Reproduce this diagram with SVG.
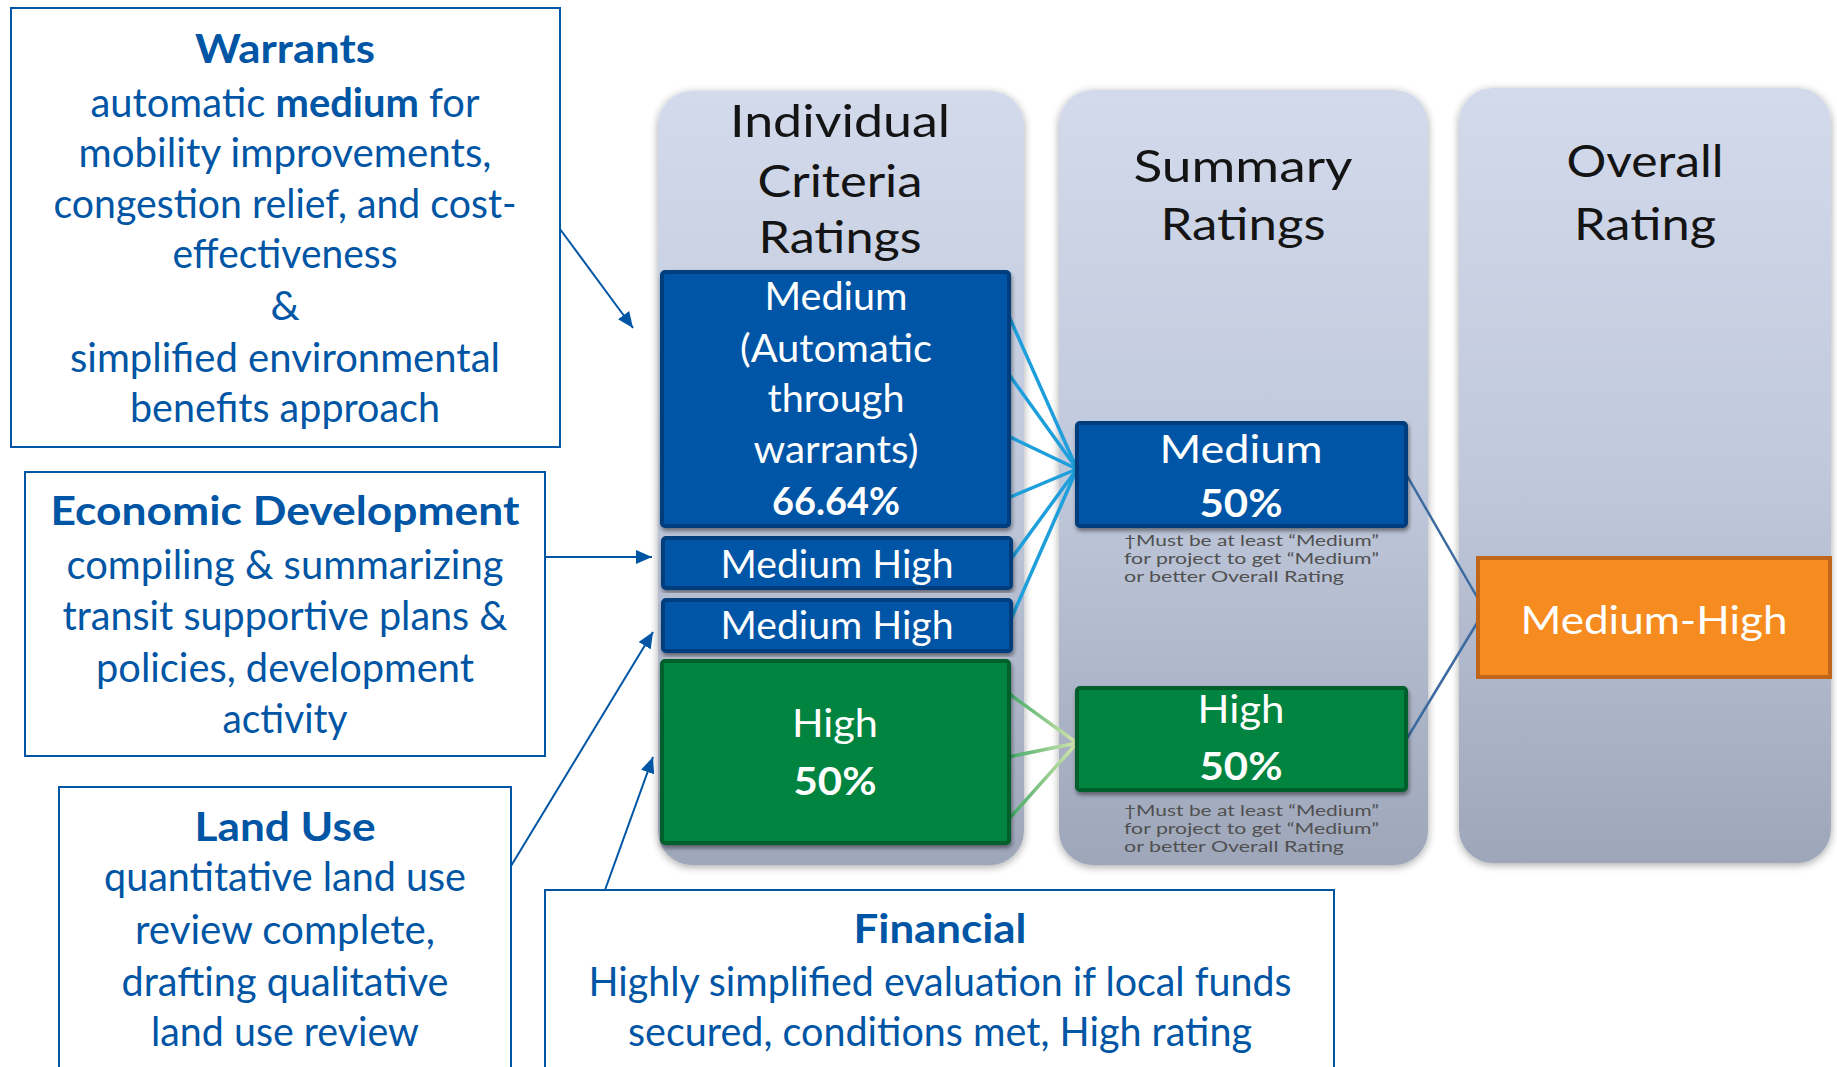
<svg xmlns="http://www.w3.org/2000/svg" width="1837" height="1067" viewBox="0 0 1837 1067">
<defs>
<linearGradient id="panelG" x1="0" y1="0" x2="0" y2="1">
<stop offset="0" stop-color="#D2DAEC"/>
<stop offset="0.5" stop-color="#C0C8DB"/>
<stop offset="1" stop-color="#9EA6BA"/>
</linearGradient>
<linearGradient id="gLine" x1="0" y1="0" x2="1" y2="0">
<stop offset="0" stop-color="#3DA865"/>
<stop offset="1" stop-color="#D7E8B0"/>
</linearGradient>
<filter id="sh" x="-10%" y="-10%" width="120%" height="120%">
<feGaussianBlur in="SourceAlpha" stdDeviation="4"/>
<feOffset dx="0" dy="2" result="b"/>
<feComponentTransfer><feFuncA type="linear" slope="0.35"/></feComponentTransfer>
<feMerge><feMergeNode/><feMergeNode in="SourceGraphic"/></feMerge>
</filter>
<filter id="bsh" x="-5%" y="-5%" width="110%" height="115%">
<feGaussianBlur in="SourceAlpha" stdDeviation="2"/>
<feOffset dx="1" dy="3"/>
<feComponentTransfer><feFuncA type="linear" slope="0.45"/></feComponentTransfer>
<feMerge><feMergeNode/><feMergeNode in="SourceGraphic"/></feMerge>
</filter>
<marker id="arr" viewBox="0 0 16 14" refX="16" refY="7" markerWidth="16" markerHeight="14" markerUnits="userSpaceOnUse" orient="auto">
<path d="M0,0 L16,7 L0,14 z" fill="#0055A4"/>
</marker>
</defs>
<style>
.panel{fill:url(#panelG);filter:url(#sh)}
.callout{fill:#FFFFFF;stroke:#0055A4;stroke-width:2}
.ct{font-family:Lato,"Open Sans","Liberation Sans",sans-serif;font-size:41px;fill:#0055A4;text-anchor:middle}
.ctb{font-family:Lato,"Open Sans","Liberation Sans",sans-serif;font-size:41px;font-weight:bold;fill:#0055A4;text-anchor:middle}
.hd{font-family:Lato,"Open Sans","Liberation Sans",sans-serif;font-size:45px;fill:#141414;text-anchor:middle}
.bx{font-family:Lato,"Open Sans","Liberation Sans",sans-serif;font-size:39px;fill:#FFFFFF;text-anchor:middle}
.bxb{font-family:Lato,"Open Sans","Liberation Sans",sans-serif;font-size:39px;font-weight:bold;fill:#FFFFFF;text-anchor:middle}
.note{font-family:Lato,"Open Sans","Liberation Sans",sans-serif;font-size:14.5px;fill:#505050}
.blue{fill:#0054A6;stroke:#003D7C;stroke-width:4;filter:url(#bsh)}
.green{fill:#00843F;stroke:#005E2C;stroke-width:4;filter:url(#bsh)}
.orange{fill:#F68B1F;stroke:#C0661A;stroke-width:4}
.lb{stroke:#1E9FDC;stroke-width:3.5;fill:none}
.lg{stroke:url(#gLine);stroke-width:3.5;fill:none}
.ld{stroke:#3D6BA0;stroke-width:2.5;fill:none}
.la{stroke:#0055A4;stroke-width:2;fill:none;marker-end:url(#arr)}
</style>
<rect x="0" y="0" width="1837" height="1067" fill="#FFFFFF"/>

<g id="panel-individual">
<rect class="panel" x="658" y="91" width="366" height="774" rx="34"/>
<text class="hd" x="840" y="137" textLength="220" lengthAdjust="spacingAndGlyphs">Individual</text>
<text class="hd" x="840" y="197" textLength="165" lengthAdjust="spacingAndGlyphs">Criteria</text>
<text class="hd" x="840" y="253" textLength="163" lengthAdjust="spacingAndGlyphs">Ratings</text>
</g>
<g id="panel-summary">
<rect class="panel" x="1059" y="90" width="369" height="775" rx="34"/>
<text class="hd" x="1243" y="182" textLength="219" lengthAdjust="spacingAndGlyphs">Summary</text>
<text class="hd" x="1243" y="240" textLength="165" lengthAdjust="spacingAndGlyphs">Ratings</text>
</g>
<g id="panel-overall">
<rect class="panel" x="1459" y="88" width="372" height="775" rx="34"/>
<text class="hd" x="1645" y="177" textLength="157" lengthAdjust="spacingAndGlyphs">Overall</text>
<text class="hd" x="1645" y="240" textLength="142" lengthAdjust="spacingAndGlyphs">Rating</text>
</g>

<g id="connectors">
<line class="lb" x1="1008" y1="314" x2="1077" y2="469"/>
<line class="lb" x1="1008" y1="373" x2="1077" y2="469"/>
<line class="lb" x1="1008" y1="436" x2="1077" y2="469"/>
<line class="lb" x1="1008" y1="498" x2="1077" y2="469"/>
<line class="lb" x1="1011" y1="559" x2="1077" y2="469"/>
<line class="lb" x1="1011" y1="619" x2="1077" y2="469"/>
<line class="lg" x1="1008" y1="693" x2="1077" y2="743"/>
<line class="lg" x1="1008" y1="757" x2="1077" y2="743"/>
<line class="lg" x1="1008" y1="820" x2="1077" y2="743"/>
<line class="ld" x1="1406" y1="474" x2="1477" y2="597"/>
<line class="ld" x1="1406" y1="740" x2="1477" y2="623"/>
<line class="la" x1="560" y1="229" x2="633" y2="328"/>
<line class="la" x1="545" y1="557" x2="652" y2="557"/>
<line class="la" x1="511" y1="866" x2="653" y2="632"/>
<line class="la" x1="605" y1="890" x2="653" y2="757"/>
</g>

<g id="ic-medium">
<rect class="blue" x="662" y="272" width="347" height="254" rx="3"/>
<text class="bx" x="836" y="310" textLength="143" lengthAdjust="spacingAndGlyphs">Medium</text>
<text class="bx" x="836" y="362" textLength="192" lengthAdjust="spacingAndGlyphs">(Automatic</text>
<text class="bx" x="836" y="412" textLength="137" lengthAdjust="spacingAndGlyphs">through</text>
<text class="bx" x="836" y="463" textLength="165" lengthAdjust="spacingAndGlyphs">warrants)</text>
<text class="bxb" x="836" y="515" textLength="128" lengthAdjust="spacingAndGlyphs">66.64%</text>
</g>
<g id="ic-medium-high-1">
<rect class="blue" x="663" y="538" width="348" height="50" rx="3"/>
<text class="bx" x="837" y="578" textLength="233" lengthAdjust="spacingAndGlyphs">Medium High</text>
</g>
<g id="ic-medium-high-2">
<rect class="blue" x="663" y="600" width="348" height="51" rx="3"/>
<text class="bx" x="837" y="639" textLength="233" lengthAdjust="spacingAndGlyphs">Medium High</text>
</g>
<g id="ic-high">
<rect class="green" x="662" y="661" width="347" height="182" rx="3"/>
<text class="bx" x="835" y="737" textLength="86" lengthAdjust="spacingAndGlyphs">High</text>
<text class="bxb" x="835" y="795" textLength="83" lengthAdjust="spacingAndGlyphs">50%</text>
</g>

<g id="sr-medium">
<rect class="blue" x="1077" y="423" width="329" height="103" rx="3"/>
<text class="bx" x="1241" y="463" font-size="41" textLength="163" lengthAdjust="spacingAndGlyphs">Medium</text>
<text class="bxb" x="1241" y="517" font-size="41" textLength="83" lengthAdjust="spacingAndGlyphs">50%</text>
<text class="note" x="1124" y="546" textLength="255" lengthAdjust="spacingAndGlyphs">†Must be at least “Medium”</text>
<text class="note" x="1124" y="564" textLength="255" lengthAdjust="spacingAndGlyphs">for project to get “Medium”</text>
<text class="note" x="1124" y="582" textLength="220" lengthAdjust="spacingAndGlyphs">or better Overall  Rating</text>
</g>
<g id="sr-high">
<rect class="green" x="1077" y="688" width="329" height="102" rx="3"/>
<text class="bx" x="1241" y="723" font-size="41" textLength="87" lengthAdjust="spacingAndGlyphs">High</text>
<text class="bxb" x="1241" y="780" font-size="41" textLength="83" lengthAdjust="spacingAndGlyphs">50%</text>
<text class="note" x="1124" y="816" textLength="255" lengthAdjust="spacingAndGlyphs">†Must be at least “Medium”</text>
<text class="note" x="1124" y="834" textLength="255" lengthAdjust="spacingAndGlyphs">for project to get “Medium”</text>
<text class="note" x="1124" y="852" textLength="220" lengthAdjust="spacingAndGlyphs">or better  Overall Rating</text>
</g>
<g id="overall-medium-high">
<rect class="orange" x="1478" y="558" width="352" height="119"/>
<text class="bx" x="1654" y="634" font-size="41" textLength="267" lengthAdjust="spacingAndGlyphs">Medium-High</text>
</g>

<g id="callout-warrants">
<rect class="callout" x="11" y="8" width="549" height="439"/>
<text class="ctb" x="285" y="63" textLength="180" lengthAdjust="spacingAndGlyphs">Warrants</text>
<text class="ct" x="285" y="117" textLength="389" lengthAdjust="spacingAndGlyphs">automatic <tspan font-weight="bold">medium</tspan> for</text>
<text class="ct" x="285" y="167" textLength="413" lengthAdjust="spacingAndGlyphs">mobility improvements,</text>
<text class="ct" x="285" y="218" textLength="463" lengthAdjust="spacingAndGlyphs">congestion relief, and cost-</text>
<text class="ct" x="285" y="268" textLength="225" lengthAdjust="spacingAndGlyphs">effectiveness</text>
<text class="ct" x="285" y="320">&amp;</text>
<text class="ct" x="285" y="372" textLength="430" lengthAdjust="spacingAndGlyphs">simplified environmental</text>
<text class="ct" x="285" y="422" textLength="310" lengthAdjust="spacingAndGlyphs">benefits approach</text>
</g>
<g id="callout-economic">
<rect class="callout" x="25" y="472" width="520" height="284"/>
<text class="ctb" x="285" y="525" textLength="469" lengthAdjust="spacingAndGlyphs">Economic Development</text>
<text class="ct" x="285" y="579" textLength="437" lengthAdjust="spacingAndGlyphs">compiling &amp; summarizing</text>
<text class="ct" x="285" y="630" textLength="445" lengthAdjust="spacingAndGlyphs">transit supportive plans &amp;</text>
<text class="ct" x="285" y="682" textLength="378" lengthAdjust="spacingAndGlyphs">policies, development</text>
<text class="ct" x="285" y="733" textLength="125" lengthAdjust="spacingAndGlyphs">activity</text>
</g>
<g id="callout-landuse">
<rect class="callout" x="59" y="787" width="452" height="300"/>
<text class="ctb" x="285" y="841" textLength="181" lengthAdjust="spacingAndGlyphs">Land Use</text>
<text class="ct" x="285" y="891" textLength="362" lengthAdjust="spacingAndGlyphs">quantitative land use</text>
<text class="ct" x="285" y="944" textLength="300" lengthAdjust="spacingAndGlyphs">review complete,</text>
<text class="ct" x="285" y="996" textLength="327" lengthAdjust="spacingAndGlyphs">drafting qualitative</text>
<text class="ct" x="285" y="1046" textLength="268" lengthAdjust="spacingAndGlyphs">land use review</text>
</g>
<g id="callout-financial">
<rect class="callout" x="545" y="890" width="789" height="200"/>
<text class="ctb" x="940" y="943" textLength="173" lengthAdjust="spacingAndGlyphs">Financial</text>
<text class="ct" x="940" y="996" textLength="703" lengthAdjust="spacingAndGlyphs">Highly simplified evaluation if local funds</text>
<text class="ct" x="940" y="1046" textLength="624" lengthAdjust="spacingAndGlyphs">secured, conditions met, High rating</text>
</g>
</svg>
